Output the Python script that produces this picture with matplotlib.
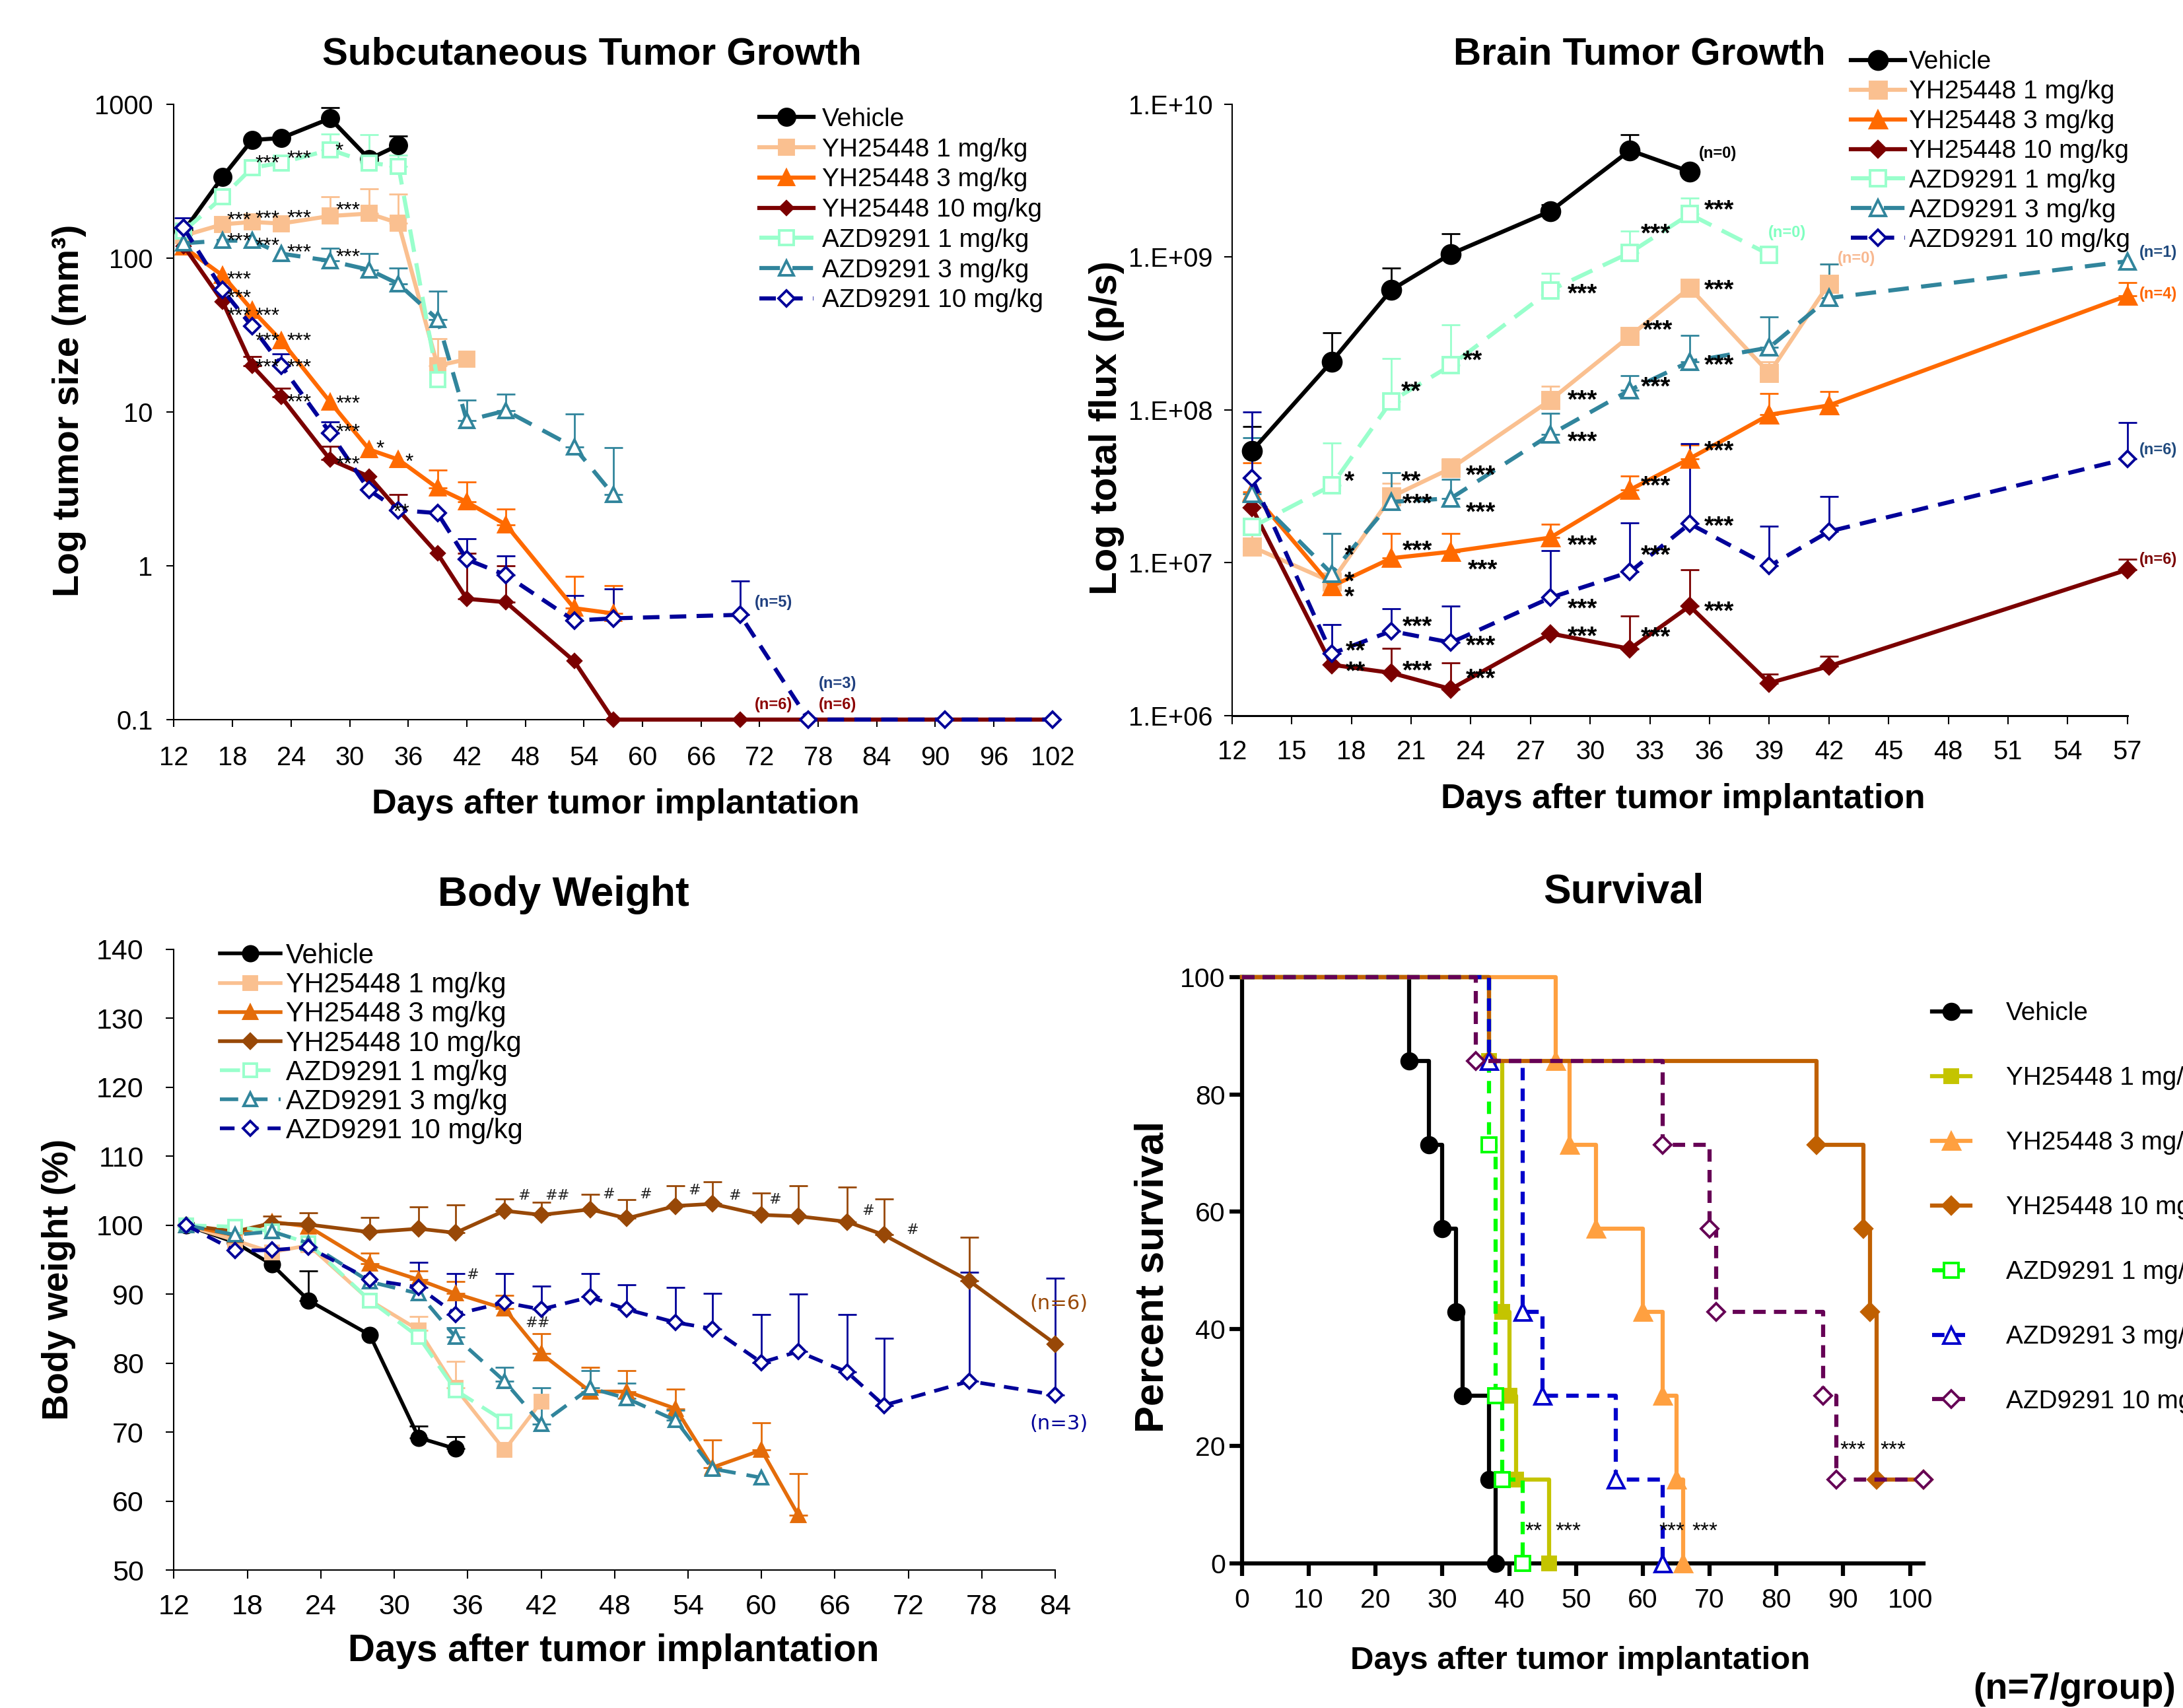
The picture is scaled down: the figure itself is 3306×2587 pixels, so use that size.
import numpy as np
import matplotlib
matplotlib.use("Agg")
import matplotlib.pyplot as plt
from matplotlib import font_manager
from matplotlib.ticker import NullLocator

names = {f.name for f in font_manager.fontManager.ttflist}
if "Liberation Sans Narrow" in names:
    NARROW, NS = "Liberation Sans Narrow", 1.0
else:
    NARROW, NS = "Liberation Sans", 0.82
plt.rcParams["font.family"] = "Liberation Sans"
nan = np.nan

groups = ["Vehicle", "YH25448 1 mg/kg", "YH25448 3 mg/kg", "YH25448 10 mg/kg",
          "AZD9291 1 mg/kg", "AZD9291 3 mg/kg", "AZD9291 10 mg/kg"]

# ---------------- subcutaneous tumour volume (mm3) ----------------
sc_veh_d = [13, 17, 20, 23, 28, 32, 35]
sc_veh = [150, 339, 586, 604, 810, 441, 543]
sc_veh_up = [nan, nan, nan, nan, 955, nan, 620]
sc_yh1_d = [13, 17, 20, 23, 28, 32, 35, 39, 42]
sc_yh1 = [140, 166, 172, 168, 188, 195, 169, 20, 22]
sc_yh1_up = [nan, nan, nan, nan, 251, 283, 261, 30, nan]
sc_yh3_d = [13, 17, 20, 23, 28, 32, 35, 39, 42, 46, 53, 57]
sc_yh3 = [118, 77, 46, 29, 11.6, 5.7, 4.9, 3.2, 2.6, 1.85, 0.53, 0.49]
sc_yh3_up = [nan, nan, nan, nan, nan, nan, nan, 4.2, 3.5, 2.35, 0.85, 0.74]
sc_yh10_d = [13, 17, 20, 23, 28, 32, 35, 39, 42, 46, 53, 57, 70, 77, 91, 102]
sc_yh10 = [120, 52, 20, 12.5, 4.9, 3.8, 2.3, 1.2, 0.61, 0.58, 0.24, 0.1, 0.1, 0.1, 0.1, 0.1]
sc_yh10_up = [nan, nan, 22.9, 14.3, 6.0, nan, 2.9, nan, 1.2, 1.0, nan, nan, nan, nan, nan, nan]
sc_az1_d = [13, 17, 20, 23, 28, 32, 35, 39]
sc_az1 = [150, 250, 387, 417, 507, 417, 395, 16.3]
sc_az1_up = [nan, nan, nan, nan, 643, 632, 467, nan]
sc_az3_d = [13, 17, 20, 23, 28, 32, 35, 39, 42, 46, 53, 57]
sc_az3 = [125, 130, 130, 107, 96, 84, 68, 40, 8.8, 10.2, 5.9, 2.9]
sc_az3_up = [nan, nan, nan, nan, 116, 107, 86, 61, 12, 13, 9.7, 5.85]
sc_az10_d = [13, 17, 20, 23, 28, 32, 35, 39, 42, 46, 53, 57, 70, 77, 91, 102]
sc_az10 = [157, 62, 36, 20, 7.3, 3.1, 2.3, 2.2, 1.1, 0.87, 0.44, 0.455, 0.48, 0.1, 0.1, 0.1]
sc_az10_up = [182, nan, nan, 23.8, 8.6, nan, nan, nan, 1.5, 1.16, 0.64, 0.71, 0.80, nan, nan, nan]
sc_stars = [(21.6, 450, "***"), (24.8, 485, "***"), (28.9, 547, "*"), (29.8, 224, "***"),
            (18.7, 193, "***"), (21.6, 198, "***"), (24.8, 200, "***"), (18.7, 141, "***"),
            (21.6, 132, "***"), (24.8, 119, "***"), (29.8, 111, "***"), (18.7, 79, "***"),
            (18.7, 60, "***"), (18.7, 46, "***"), (21.6, 46, "***"), (21.6, 31.6, "***"),
            (24.8, 31.6, "***"), (21.6, 21.4, "***"), (24.8, 21.4, "***"), (24.8, 12.6, "***"),
            (29.8, 12.4, "***"), (29.8, 8.1, "***"), (33.1, 6.35, "*"), (36.1, 5.2, "*"),
            (29.8, 5.0, "***"), (35.3, 2.45, "**")]
sc_nlab = [(73.4, 0.58, "(n=5)", "#1F3F7F"), (80.0, 0.171, "(n=3)", "#1F3F7F"),
           (73.4, 0.125, "(n=6)", "#8B0000"), (80.0, 0.125, "(n=6)", "#8B0000")]

# ---------------- brain tumour flux (p/s) ----------------
br_veh_d = [13, 17, 20, 23, 28, 32, 35]
br_veh = [5.4e7, 2.07e8, 6.1e8, 1.05e9, 2.0e9, 5.0e9, 3.63e9]
br_veh_up = [7.8e7, 3.2e8, 8.5e8, 1.43e9, 2.2e9, 6.3e9, nan]
br_yh1_d = [13, 17, 20, 23, 28, 32, 35, 39, 42]
br_yh1 = [1.27e7, 7.5e6, 2.7e7, 4.15e7, 1.16e8, 3.05e8, 6.3e8, 1.74e8, 6.7e8]
br_yh1_up = [1.55e7, nan, 3.3e7, 4.8e7, 1.43e8, nan, nan, 2.07e8, 9.0e8]
br_yh3_d = [13, 17, 20, 23, 28, 32, 35, 39, 42, 57]
br_yh3 = [2.9e7, 7.0e6, 1.07e7, 1.18e7, 1.46e7, 3.0e7, 4.8e7, 9.3e7, 1.07e8, 5.6e8]
br_yh3_up = [4.5e7, nan, 1.55e7, 1.55e7, 1.78e7, 3.7e7, 5.9e7, 1.28e8, 1.32e8, 6.8e8]
br_yh10_d = [13, 17, 20, 23, 28, 32, 35, 39, 42, 57]
br_yh10 = [2.29e7, 2.15e6, 1.9e6, 1.49e6, 3.44e6, 2.73e6, 5.2e6, 1.63e6, 2.1e6, 9.0e6]
br_yh10_up = [nan, nan, 2.75e6, 2.2e6, nan, 4.5e6, 9.0e6, 1.86e6, 2.45e6, 1.05e7]
br_az1_d = [13, 17, 20, 23, 28, 32, 35, 39]
br_az1 = [1.71e7, 3.2e7, 1.14e8, 1.96e8, 6.07e8, 1.07e9, 1.91e9, 1.04e9]
br_az1_up = [nan, 6.1e7, 2.16e8, 3.6e8, 7.8e8, 1.48e9, 2.44e9, nan]
br_az3_d = [13, 17, 20, 23, 28, 32, 35, 39, 42, 57]
br_az3 = [2.83e7, 8.5e6, 2.5e7, 2.64e7, 6.9e7, 1.35e8, 2.07e8, 2.56e8, 5.4e8, 9.4e8]
br_az3_up = [6.6e7, 1.55e7, 3.9e7, 3.5e7, 9.5e7, 1.68e8, 3.06e8, 4.06e8, 9.0e8, nan]
br_az10_d = [13, 17, 20, 23, 28, 32, 35, 39, 42, 57]
br_az10 = [3.58e7, 2.54e6, 3.57e6, 3.0e6, 5.9e6, 8.7e6, 1.8e7, 9.5e6, 1.6e7, 4.8e7]
br_az10_up = [9.7e7, 3.95e6, 5.0e6, 5.2e6, 1.2e7, 1.83e7, 6.0e7, 1.74e7, 2.7e7, 8.3e7]
# star positions: (day, log10 flux, text)
br_stars = [(33.3, 9.20, "***"), (29.6, 8.81, "***"), (33.4, 8.57, "***"), (24.1, 8.37, "**"),
            (21.0, 8.17, "**"), (33.3, 8.20, "***"), (29.6, 8.11, "***"), (29.6, 7.84, "***"),
            (17.9, 7.58, "*"), (21.0, 7.58, "**"), (24.5, 7.62, "***"), (33.3, 7.55, "***"),
            (21.3, 7.433, "***"), (24.5, 7.379, "***"), (17.9, 7.097, "*"), (29.6, 7.161, "***"),
            (21.3, 7.126, "***"), (17.9, 6.925, "*"), (24.6, 7.0, "***"), (17.9, 6.824, "*"),
            (33.3, 7.096, "***"), (29.6, 6.748, "***"), (21.3, 6.632, "***"), (18.2, 6.469, "**"),
            (24.5, 6.506, "***"), (29.6, 6.567, "***"), (33.3, 6.559, "***"), (18.2, 6.336, "**"),
            (21.3, 6.34, "***"), (24.5, 6.287, "***"), (36.5, 9.357, "***"), (36.5, 8.835, "***"),
            (36.5, 8.341, "***"), (36.5, 7.78, "***"), (36.5, 7.286, "***"), (36.5, 6.73, "***")]
br_nlab = [(36.4, 9.68, "(n=0)", "#000000", "center"), (39.9, 9.16, "(n=0)", "#80FFC0", "center"),
           (43.4, 8.99, "(n=0)", "#F8B890", "center"), (57.6, 9.03, "(n=1)", "#1F497D", "left"),
           (57.6, 8.76, "(n=4)", "#FF6600", "left"), (57.6, 7.74, "(n=6)", "#1F497D", "left"),
           (57.6, 7.02, "(n=6)", "#7B0000", "left")]

# ---------------- body weight (%) ----------------
bw_veh_d = [13, 17, 20, 23, 28, 32, 35]
bw_veh = [100, 97.5, 94.3, 89.1, 84.1, 69.2, 67.6]
bw_veh_up = [nan, nan, nan, 93.4, nan, 70.9, 69.4]
bw_yh1_d = [13, 17, 20, 23, 28, 32, 35, 39, 42]
bw_yh1 = [100, 97.8, 96.1, 97.1, 89.1, 84.8, 76.4, 67.4, 74.4]
bw_yh1_up = [nan, nan, nan, nan, nan, 86.8, 80.3, nan, nan]
bw_yh3_d = [13, 17, 20, 23, 28, 32, 35, 39, 42, 46, 49, 53, 56, 60, 63]
bw_yh3 = [100, 98.5, 100.5, 99.8, 94.4, 92.1, 90.1, 87.9, 81.4, 75.9, 75.9, 73.4, 64.9, 67.4, 58.0]
bw_yh3_up = [nan, nan, nan, nan, 96, 93.4, 91.8, 89.8, 84.3, 79.4, 78.9, 76.2, 68.9, 71.4, 64.0]
bw_yh10_d = [13, 17, 20, 23, 28, 32, 35, 39, 42, 46, 49, 53, 56, 60, 63, 67, 70, 77, 84]
bw_yh10 = [100, 99.1, 100.3, 100.1, 99.0, 99.5, 98.9, 102.1, 101.5, 102.3, 101.0, 102.8,
           103.1, 101.5, 101.3, 100.5, 98.6, 91.9, 82.8]
bw_yh10_up = [nan, nan, 101.3, 101.8, 101.1, 102.7, 102.9, 103.8, 103.3, 104.5, 103.7, 105.7,
              106.3, 104.7, 105.7, 105.5, 103.8, 98.3, nan]
bw_az1_d = [13, 17, 20, 23, 28, 32, 35, 39]
bw_az1 = [100, 99.8, 99.1, 97.4, 89.1, 83.8, 76.1, 71.6]
bw_az3_d = [13, 17, 20, 23, 28, 32, 35, 39, 42, 46, 49, 53, 56, 60]
bw_az3 = [100, 98.6, 99.1, 97.4, 91.8, 90.1, 83.8, 77.4, 71.2, 76.4, 74.9, 71.7, 64.7, 63.4]
bw_az3_up = [nan, nan, nan, nan, nan, nan, 85.1, 79.4, 76.4, 78.9, 77.1, 73.2, nan, nan]
bw_az10_d = [13, 17, 20, 23, 28, 32, 35, 39, 42, 46, 49, 53, 56, 60, 63, 67, 70, 77, 84]
bw_az10 = [100, 96.3, 96.4, 96.8, 92.1, 91.0, 87.1, 88.8, 87.8, 89.6, 87.8, 85.9, 85.0, 80.1,
           81.7, 78.7, 73.9, 77.4, 75.4]
bw_az10_up = [nan, nan, nan, nan, nan, 94.6, 93.0, 93.0, 91.2, 93.0, 91.4, 91.0, 90.1, 87.1,
              90.0, 87.1, 83.6, 93.2, 92.3]
bw_hash = [(36.4, 92.8, "#"), (40.6, 104.3, "#"), (43.3, 104.3, "##"), (41.7, 85.8, "##"),
           (47.5, 104.5, "#"), (50.5, 104.5, "#"), (54.5, 105.1, "#"), (57.8, 104.3, "#"),
           (61.1, 103.7, "#"), (68.7, 102.1, "#"), (72.3, 99.3, "#")]

# ---------------- survival (%) ----------------
sv_veh_t = [0, 25, 28, 30, 32, 33, 37, 38]
sv_veh = [100, 85.7, 71.4, 57.1, 42.9, 28.6, 14.3, 0]
sv_yh1_t = [0, 37, 39, 40, 41, 46]
sv_yh1 = [100, 85.7, 42.9, 28.6, 14.3, 0]
sv_yh3_t = [0, 47, 49, 53, 60, 63, 65, 66]
sv_yh3 = [100, 85.7, 71.4, 57.1, 42.9, 28.6, 14.3, 0]
sv_yh10_t = [0, 37, 86, 93, 94, 95, 102]
sv_yh10 = [100, 85.7, 71.4, 57.1, 42.9, 14.3, 14.3]
sv_az1_t = [0, 37, 38, 39, 42]
sv_az1 = [100, 71.4, 28.6, 14.3, 0]
sv_az3_t = [0, 37, 42, 45, 56, 63]
sv_az3 = [100, 85.7, 42.9, 28.6, 14.3, 0]
sv_az10_t = [0, 35, 63, 70, 71, 87, 89, 102]
sv_az10 = [100, 85.7, 71.4, 57.1, 42.9, 28.6, 14.3, 14.3]
sv_stars = [(43.7, 6.6, "**"), (48.8, 6.6, "***"), (64.4, 6.6, "***"), (69.3, 6.6, "***"),
            (91.4, 20.5, "***"), (97.5, 20.5, "***")]


def series(ax, x, y, up, color, marker, ms, ls="-", lw=4.5, hollow=False, label=None, mew=2.8, ew=2):
    x = np.asarray(x, float)
    y = np.asarray(y, float)
    ax.plot(x, y, color=color, ls=ls, lw=lw, marker=marker, ms=ms,
            mfc="white" if hollow else color, mec=color, mew=mew,
            label=label, clip_on=False, zorder=3)
    if up is not None:
        up = np.asarray(up, float)
        m = ~np.isnan(up)
        ax.errorbar(x[m], y[m], yerr=[np.zeros(m.sum()), up[m] - y[m]], fmt="none",
                    ecolor=color, elinewidth=ew, capsize=10, capthick=ew, zorder=2,
                    clip_on=False)


def stars(ax, items, fs, weight="normal"):
    for x, y, s in items:
        ax.annotate(s, (x, y), xytext=(0, -0.58 * fs), textcoords="offset points",
                    ha="center", va="baseline", fontsize=fs, fontweight=weight,
                    annotation_clip=False)


def style(ax, lw=1.5):
    for s in ["top", "right"]:
        ax.spines[s].set_visible(False)
    for s in ["left", "bottom"]:
        ax.spines[s].set_linewidth(lw)


fig = plt.figure(figsize=(33.06, 25.87), dpi=100)

# colours
BLK = "#000000"
PEACH = "#FAC090"
ORNG = "#FF6A00"
DRED = "#7B0000"
MINT = "#99FFCC"
TEAL = "#31859C"
NAVY = "#000099"
d_mint = (0, (5.5, 2.8))
d_teal = (0, (5, 3))
d_navy = (0, (4, 2.5))

# ================= panel 1 =================
ax1 = fig.add_axes([0.0797, 0.5787, 0.4024, 0.3602])
series(ax1, sc_veh_d, sc_veh, sc_veh_up, BLK, "o", 18, label=groups[0])
series(ax1, sc_yh1_d, sc_yh1, sc_yh1_up, PEACH, "s", 16, label=groups[1])
series(ax1, sc_yh3_d, sc_yh3, sc_yh3_up, ORNG, "^", 16, label=groups[2])
series(ax1, sc_yh10_d, sc_yh10, sc_yh10_up, DRED, "D", 10, label=groups[3])
series(ax1, sc_az1_d, sc_az1, sc_az1_up, MINT, "s", 16, ls=d_mint, hollow=True, label=groups[4])
series(ax1, sc_az3_d, sc_az3, sc_az3_up, TEAL, "^", 16, ls=d_teal, hollow=True, label=groups[5])
series(ax1, sc_az10_d, sc_az10, sc_az10_up, NAVY, "D", 12, ls=d_navy, hollow=True, label=groups[6])
ax1.set_yscale("log")
ax1.set_xlim(12, 102)
ax1.set_ylim(0.1, 1000)
ax1.set_xticks(range(12, 103, 6))
ax1.set_yticks([0.1, 1, 10, 100, 1000])
ax1.set_yticklabels(["0.1", "1", "10", "100", "1000"])
ax1.yaxis.set_minor_locator(NullLocator())
style(ax1)
ax1.tick_params(axis="both", direction="out", length=8, width=1.5, labelsize=35 * NS)
ax1.tick_params(axis="y", pad=15)
ax1.tick_params(axis="x", pad=20)
for t in ax1.get_xticklabels() + ax1.get_yticklabels():
    t.set_family(NARROW)
stars(ax1, sc_stars, 23)
for x, y, s, c in sc_nlab:
    ax1.text(x, y, s, color=c, fontsize=17, fontweight="bold", ha="center", va="center")
ax1.legend(loc="upper left", bbox_to_anchor=(0.348, 0.937), bbox_transform=fig.transFigure,
           frameon=False, fontsize=28, handlelength=2.1, handletextpad=0.32,
           labelspacing=0.25, borderpad=0, borderaxespad=0, numpoints=1)

# ================= panel 2 =================
ax2 = fig.add_axes([0.5644, 0.5811, 0.4101, 0.3578])
series(ax2, br_veh_d, br_veh, br_veh_up, BLK, "o", 20, label=groups[0])
series(ax2, br_yh1_d, br_yh1, br_yh1_up, PEACH, "s", 18, label=groups[1])
series(ax2, br_yh3_d, br_yh3, br_yh3_up, ORNG, "^", 18, label=groups[2])
series(ax2, br_yh10_d, br_yh10, br_yh10_up, DRED, "D", 12, label=groups[3])
series(ax2, br_az1_d, br_az1, br_az1_up, MINT, "s", 17, ls=d_mint, hollow=True, label=groups[4])
series(ax2, br_az3_d, br_az3, br_az3_up, TEAL, "^", 17, ls=d_teal, hollow=True, label=groups[5])
series(ax2, br_az10_d, br_az10, br_az10_up, NAVY, "D", 12, ls=d_navy, hollow=True, label=groups[6])
ax2.set_yscale("log")
ax2.set_xlim(12, 57)
ax2.set_ylim(1e6, 1e10)
ax2.set_xticks(range(12, 58, 3))
ax2.set_yticks([1e6, 1e7, 1e8, 1e9, 1e10])
ax2.set_yticklabels(["1.E+06", "1.E+07", "1.E+08", "1.E+09", "1.E+10"])
ax2.yaxis.set_minor_locator(NullLocator())
style(ax2)
ax2.spines["bottom"].set_linewidth(2.2)
ax2.tick_params(axis="both", direction="out", length=9, width=1.5, labelsize=35 * NS)
ax2.tick_params(axis="y", pad=12)
ax2.tick_params(axis="x", pad=17)
for t in ax2.get_xticklabels() + ax2.get_yticklabels():
    t.set_family(NARROW)
stars(ax2, [(x, 10 ** v, s) for x, v, s in br_stars], 28, weight="bold")
for x, v, s, c, h in br_nlab:
    ax2.text(x, 10 ** v, s, color=c, fontsize=17, fontweight="bold", ha=h, va="center",
             clip_on=False)
ax2.legend(loc="upper left", bbox_to_anchor=(0.848, 0.9705), bbox_transform=fig.transFigure,
           frameon=False, fontsize=28, handlelength=2.1, handletextpad=0.15,
           labelspacing=0.23, borderpad=0, borderaxespad=0, numpoints=1)

# ================= panel 3 =================
ORNG3 = "#E46C0A"
BRWN = "#984807"
ax3 = fig.add_axes([0.0797, 0.0807, 0.4037, 0.3635])
series(ax3, bw_veh_d, bw_veh, bw_veh_up, BLK, "o", 16, lw=4, label=groups[0])
series(ax3, bw_yh1_d, bw_yh1, bw_yh1_up, PEACH, "s", 15, lw=4, label=groups[1])
series(ax3, bw_yh3_d, bw_yh3, bw_yh3_up, ORNG3, "^", 15, lw=4, label=groups[2])
series(ax3, bw_yh10_d, bw_yh10, bw_yh10_up, BRWN, "D", 11, lw=4, label=groups[3])
series(ax3, bw_az1_d, bw_az1, None, MINT, "s", 15, lw=4, ls=d_mint, hollow=True, label=groups[4])
series(ax3, bw_az3_d, bw_az3, bw_az3_up, TEAL, "^", 15, lw=4, ls=d_teal, hollow=True, label=groups[5])
series(ax3, bw_az10_d, bw_az10, bw_az10_up, NAVY, "D", 11, lw=4, ls=d_navy, hollow=True, label=groups[6])
ax3.set_xlim(12, 84)
ax3.set_ylim(50, 140)
ax3.set_xticks(range(12, 85, 6))
ax3.set_yticks(range(50, 141, 10))
style(ax3)
ax3.tick_params(axis="both", direction="out", length=9, width=1.5, labelsize=31)
ax3.tick_params(axis="y", pad=24)
ax3.tick_params(axis="x", pad=17)
for x, y, s in bw_hash:
    ax3.text(x, y, s, fontsize=16, color="#222222", ha="center", va="center", family="DejaVu Sans")
ax3.text(84.3, 88.6, "(n=6)", color=BRWN, fontsize=22, ha="center", va="center", family="DejaVu Sans")
ax3.text(84.3, 71.2, "(n=3)", color=NAVY, fontsize=22, ha="center", va="center", family="DejaVu Sans")
ax3.legend(loc="upper left", bbox_to_anchor=(0.1008, 0.448), bbox_transform=fig.transFigure,
           frameon=False, fontsize=30, handlelength=2.2, handletextpad=0.2,
           labelspacing=0.1, borderpad=0, borderaxespad=0, numpoints=1)

# ================= panel 4 =================
ax4 = fig.add_axes([0.5689, 0.0848, 0.3122, 0.3431])
sv = [
    (sv_veh_t, sv_veh, "#000000", "o", 17, "-", False, groups[0]),
    (sv_yh1_t, sv_yh1, "#C4C400", "s", 15, "-", False, groups[1]),
    (sv_yh3_t, sv_yh3, "#FFA040", "^", 18, "-", False, groups[2]),
    (sv_yh10_t, sv_yh10, "#C06000", "D", 13, "-", False, groups[3]),
    (sv_az1_t, sv_az1, "#00FF00", "s", 16, (0, (3, 2)), True, groups[4]),
    (sv_az3_t, sv_az3, "#0000CC", "^", 18, (0, (3, 2)), True, groups[5]),
    (sv_az10_t, sv_az10, "#660055", "D", 13, (0, (3, 2)), True, groups[6]),
]
for t, s, c, mk, ms, ls, hol, lab in sv:
    ax4.plot(t, s, drawstyle="steps-post", color=c, ls=ls, lw=4.5, marker=mk, ms=ms,
             mfc="white" if hol else c, mec=c, mew=2.8, markevery=list(range(1, len(t))),
             label=lab, clip_on=False, zorder=3)
ax4.set_xlim(0, 102)
ax4.set_ylim(0, 100)
ax4.set_xticks(range(0, 101, 10))
ax4.set_yticks(range(0, 101, 20))
style(ax4, lw=4.5)
ax4.tick_params(axis="both", direction="out", length=14, width=4.5, labelsize=36 * NS)
ax4.tick_params(axis="y", pad=4)
ax4.tick_params(axis="x", pad=13)
for t in ax4.get_xticklabels() + ax4.get_yticklabels():
    t.set_family(NARROW)
stars(ax4, sv_stars, 24)
leg4 = ax4.legend(loc="upper left", bbox_to_anchor=(0.885, 0.4135), bbox_transform=fig.transFigure,
                  frameon=False, fontsize=34 * NS, handlelength=1.5, handletextpad=1.4,
                  labelspacing=1.6, borderpad=0, borderaxespad=0, numpoints=1)
for t in leg4.get_texts():
    t.set_family(NARROW)

# ================= titles and labels =================
fig.text(0.271, 0.968, "Subcutaneous Tumor Growth", fontsize=42, fontweight="bold", ha="center", va="center")
fig.text(0.751, 0.968, "Brain Tumor Growth", fontsize=42, fontweight="bold", ha="center", va="center")
fig.text(0.258, 0.476, "Body Weight", fontsize=45, fontweight="bold", ha="center", va="center")
fig.text(0.7437, 0.4776, "Survival", fontsize=45, fontweight="bold", ha="center", va="center")

fig.text(0.0319, 0.7596, "Log tumor size (mm³)", fontsize=40, fontweight="bold", rotation=90, ha="center", va="center")
fig.text(0.2819, 0.529, "Days after tumor implantation", fontsize=37.5, fontweight="bold", ha="center", va="center")
fig.text(0.507, 0.7494, "Log total flux (p/s)", fontsize=42, fontweight="bold", rotation=90, ha="center", va="center")
fig.text(0.771, 0.532, "Days after tumor implantation", fontsize=37.3, fontweight="bold", ha="center", va="center")
fig.text(0.0268, 0.251, "Body weight (%)", fontsize=39.4, fontweight="bold", rotation=90, ha="center", va="center")
fig.text(0.281, 0.0334, "Days after tumor implantation", fontsize=40.9, fontweight="bold", ha="center", va="center")
fig.text(0.528, 0.2526, "Percent survival", fontsize=44, fontweight="bold", rotation=90, ha="center", va="center")
fig.text(0.7239, 0.0277, "Days after tumor implantation", fontsize=35.4, fontweight="bold", ha="center", va="center")
fig.text(0.904, 0.011, "(n=7/group)", fontsize=40, fontweight="bold", ha="left", va="center")

fig.savefig("out.png", dpi=100)
